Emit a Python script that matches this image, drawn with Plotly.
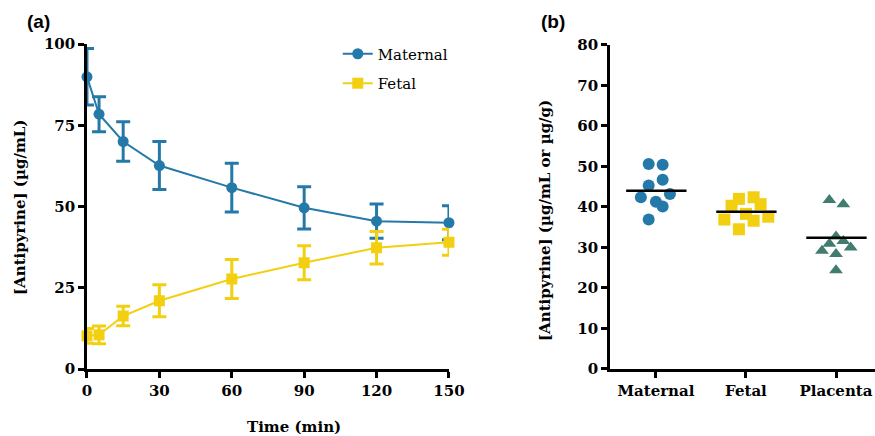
import plotly.graph_objects as go

# ---- Panel (a) data ----
time_min = [0, 5, 15, 30, 60, 90, 120, 150]
maternal_mean = [89.9, 78.4, 70.0, 62.6, 55.8, 49.6, 45.5, 45.0]
maternal_sd = [8.7, 5.4, 6.1, 7.4, 7.5, 6.5, 5.3, 5.2]
fetal_mean = [10.2, 10.5, 16.3, 21.0, 27.7, 32.7, 37.3, 39.0]
fetal_sd = [2.3, 2.7, 3.0, 4.9, 6.0, 5.2, 5.0, 4.0]

# ---- Panel (b) data ----
groups = ["Maternal", "Fetal", "Placenta"]
maternal_vals = [50.6, 50.4, 46.7, 45.3, 42.4, 43.2, 41.3, 40.1, 36.9]
fetal_vals = [42.0, 42.4, 40.3, 40.7, 38.3, 36.9, 36.6, 37.6, 34.5]
placenta_vals = [41.7, 40.7, 32.7, 30.9, 31.6, 29.2, 30.0, 28.4, 24.4]
# horizontal scatter offsets (category units) of the dot plot
maternal_jit = [-0.08, 0.075, 0.075, -0.08, -0.167, 0.156, 0.0, 0.075, -0.08]
fetal_jit = [-0.078, 0.085, -0.16, 0.163, 0.0, -0.24, 0.085, 0.248, -0.078]
placenta_jit = [-0.074, 0.081, 0.0, -0.074, 0.081, -0.156, 0.163, 0.0, 0.0]
group_means = [44.0, 38.8, 32.4]

BLUE = "#2479a8"
YELLOW = "#f3cf12"
GREEN = "#427c6f"
SERIF = "DejaVu Serif"

fig = go.Figure()

fig.add_trace(go.Scatter(
    x=time_min, y=maternal_mean, name="Maternal", mode="lines+markers",
    legendgroup="m",
    line=dict(color=BLUE, width=2),
    marker=dict(symbol="circle", size=11, color=BLUE),
    error_y=dict(type="data", array=maternal_sd, color=BLUE, thickness=3, width=7),
    cliponaxis=False, xaxis="x", yaxis="y"))
fig.add_trace(go.Scatter(
    x=time_min, y=fetal_mean, name="Fetal", mode="lines+markers",
    legendgroup="f",
    line=dict(color=YELLOW, width=2),
    marker=dict(symbol="square", size=11, color=YELLOW),
    error_y=dict(type="data", array=fetal_sd, color=YELLOW, thickness=3, width=7),
    cliponaxis=False, xaxis="x", yaxis="y"))

sets = [(maternal_vals, maternal_jit, BLUE, "circle"),
        (fetal_vals, fetal_jit, YELLOW, "square"),
        (placenta_vals, placenta_jit, GREEN, "triangle-up")]
for i, (vals, jit, col, sym) in enumerate(sets):
    fig.add_trace(go.Scatter(
        x=[i + j for j in jit], y=vals, mode="markers", showlegend=False,
        marker=dict(symbol=sym, size=12, color=col),
        cliponaxis=False, xaxis="x2", yaxis="y2"))
    fig.add_trace(go.Scatter(
        x=[i - 0.33, i + 0.34], y=[group_means[i]] * 2, mode="lines",
        showlegend=False, line=dict(color="black", width=2.5),
        cliponaxis=False, xaxis="x2", yaxis="y2"))

tickfont = dict(family=SERIF, size=15, color="black", weight="bold")
axis_common = dict(showline=True, linecolor="black", linewidth=2.5,
                   ticks="outside", ticklen=6, tickwidth=2.5, tickcolor="black",
                   showgrid=False, zeroline=False, tickfont=tickfont,
                   automargin=False)

fig.update_layout(
    width=875, height=436,
    margin=dict(l=0, r=0, t=44, b=67, autoexpand=False),
    paper_bgcolor="white", plot_bgcolor="white",
    xaxis=dict(domain=[0.0994, 0.5131], range=[0, 150],
               tickvals=[0, 30, 60, 90, 120, 150], anchor="y", **axis_common),
    yaxis=dict(domain=[0, 1], range=[0, 100], tickvals=[0, 25, 50, 75, 100],
               anchor="x", **axis_common),
    xaxis2=dict(domain=[0.697, 1.0], range=[-0.511, 2.433],
                tickvals=[0, 1, 2], ticktext=groups, anchor="y2", **axis_common),
    yaxis2=dict(domain=[0, 0.997], range=[0, 80],
                tickvals=[0, 10, 20, 30, 40, 50, 60, 70, 80],
                anchor="x2", **axis_common),
    legend=dict(x=0.386, y=1.02, xanchor="left", yanchor="top",
                font=dict(family=SERIF, size=15, color="black"),
                bgcolor="rgba(0,0,0,0)", traceorder="grouped", tracegroupgap=7),
    showlegend=True,
)

def py2paper(py):
    return (369 - py) / 325.0

annos = [
    dict(text="(a)", x=38 / 875, y=py2paper(22), font=dict(family="Liberation Sans", size=19, color="black", weight="bold")),
    dict(text="(b)", x=553 / 875, y=py2paper(22), font=dict(family="Liberation Sans", size=19, color="black", weight="bold")),
    dict(text="Time (min)", x=294 / 875, y=py2paper(427), font=dict(family=SERIF, size=15, color="black", weight="bold")),
    dict(text="[Antipyrine] (µg/mL)", x=20 / 875, y=py2paper(208), textangle=-90,
         font=dict(family=SERIF, size=15, color="black", weight="bold")),
    dict(text="[Antipyrine] (µg/mL or µg/g)", x=545 / 875, y=py2paper(221), textangle=-90,
         font=dict(family=SERIF, size=15, color="black", weight="bold")),
]
for a in annos:
    fig.add_annotation(xref="paper", yref="paper", showarrow=False,
                       xanchor="center", yanchor="middle", **a)

fig.write_html("out.html")
